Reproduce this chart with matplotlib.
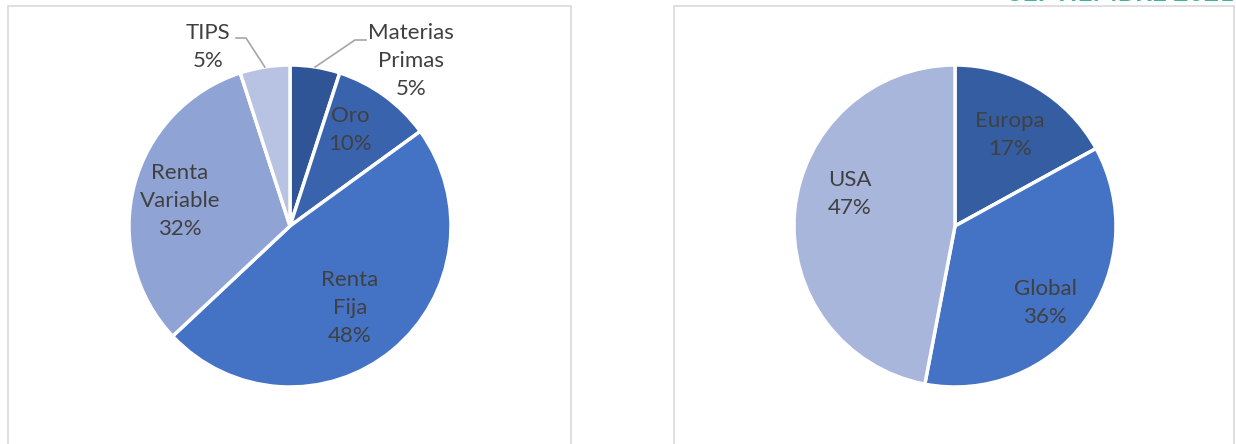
import numpy as np
import matplotlib.pyplot as plt
from matplotlib.patches import Rectangle

# left pie: asset classes
activos = ['Materias\nPrimas', 'Oro', 'Renta\nFija', 'Renta\nVariable', 'TIPS']
pesos_activos = [5, 10, 48, 32, 5]
colores_activos = ['#2F5597', '#3A63AD', '#4472C4', '#8FA3D4', '#B8C2E2']

# right pie: regions
regiones = ['Europa', 'Global', 'USA']
pesos_regiones = [17, 36, 47]
colores_regiones = ['#355DA2', '#4472C4', '#A8B6DB']

W, H = 1236, 444
fig = plt.figure(figsize=(W / 100, H / 100), dpi=100)
ax = fig.add_axes([0, 0, 1, 1])
plt.rcParams['font.family'] = ['Lato', 'DejaVu Sans']

txt = dict(color='#404040', fontsize=16, ha='center', va='center', linespacing=1.5)
R = 161

# where each label sits (pixels from top-left), like the excel "best fit" layout
pos_labels = {'Materias\nPrimas': (411, 61), 'Oro': (350, 130), 'Renta\nFija': (350, 308),
              'Renta\nVariable': (180, 201), 'TIPS': (208, 47),
              'Europa': (1010, 135), 'Global': (1045, 303), 'USA': (850, 194)}
# leader lines: elbow and end points
guias = {'Materias\nPrimas': ((355, 40), (366, 40)), 'TIPS': ((246, 38), (236, 38))}


def pie(valores, colores, nombres, cx, cy):
    wedges, _ = ax.pie(valores, colors=colores, startangle=90, counterclock=False,
                       center=(cx, H - cy), radius=R,
                       wedgeprops=dict(edgecolor='white', linewidth=2.5))
    for w, nom, v in zip(wedges, nombres, valores):
        mid = np.deg2rad((w.theta1 + w.theta2) / 2)
        tx, ty = pos_labels[nom]
        if nom in guias:
            codo, fin = guias[nom]
            x0 = cx + R * np.cos(mid)
            y0 = H - cy + R * np.sin(mid)
            ax.plot([x0, codo[0], fin[0]], [y0, H - codo[1], H - fin[1]],
                    color='#A6A6A6', lw=1.2)
        ax.text(tx, H - ty, nom + '\n' + str(v) + '%', **txt)


pie(pesos_activos, colores_activos, activos, 290, 226)
pie(pesos_regiones, colores_regiones, regiones, 955, 226)

# chart boxes
for x0, x1 in [(8, 571), (674, 1234)]:
    ax.add_patch(Rectangle((x0, -10), x1 - x0, H - 6 + 10, fill=False,
                           edgecolor='#D9D9D9', lw=1.2))

ax.text(1008, H - 5, 'SEPTIEMBRE 2021', color='#3DB39E', fontsize=19,
        fontweight='bold', ha='left', va='bottom')

ax.set_xlim(0, W)
ax.set_ylim(0, H)
ax.set_aspect('auto')
ax.axis('off')

fig.savefig('out.png', dpi=100)
